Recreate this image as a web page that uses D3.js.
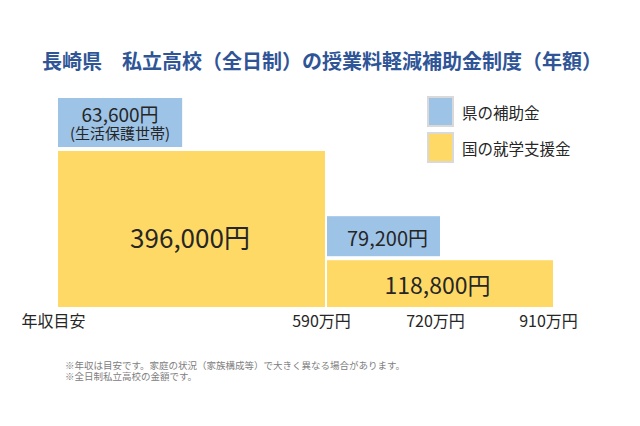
<!DOCTYPE html>
<html>
<head>
<meta charset="utf-8">
<script src="https://cdn.jsdelivr.net/npm/d3@7"></script>
<style>
    body { margin: 0; background: #fff; }
    text { font-family: "Noto Sans CJK JP", "Noto Sans", sans-serif; fill: #262626; }
</style>
</head>
<body>
<script>
const title = "長崎県　私立高校（全日制）の授業料軽減補助金制度（年額）";

const incomeTicks = [0, 590, 720, 910];
const incomeLabels = ["年収目安", "590万円", "720万円", "910万円"];

// 国の就学支援金
const nationalFrom = [0, 590];
const nationalTo = [590, 910];
const nationalAmount = [396000, 118800];

// 県の補助金 (sits on top of the national block starting at the same income)
const prefFrom = [0, 590];
const prefTo = [null, 720];          // null -> box as wide as its label
const prefAmount = [63600, 79200];
const prefNote = ["(生活保護世帯)", ""];

const legendLabels = ["県の補助金", "国の就学支援金"];
const footNotes = [
    "※年収は目安です。家庭の状況（家族構成等）で大きく異なる場合があります。",
    "※全日制私立高校の金額です。"
];

const W = 640, H = 426;
const blue = "#9dc3e6", yellow = "#ffd966";

const fmt = d => d3.format(",")(d) + "円";

const national = nationalAmount.map((v, i) => ({ from: nationalFrom[i], to: nationalTo[i], amount: v }));
const pref = prefAmount.map((v, i) => ({ from: prefFrom[i], to: prefTo[i], amount: v, note: prefNote[i] }));

var x = d3.scaleLinear()
    .domain(incomeTicks)
    .range([58, 326, 440, 553]);

var y = d3.scaleLinear()
    .domain([0, d3.max(nationalAmount)])
    .range([307, 151]);

var labelSize = d3.scaleLinear()
    .domain(d3.extent(nationalAmount))
    .range([23, 26]);

var svg = d3.select("body").append("svg")
    .attr("width", W)
    .attr("height", H);

svg.append("rect").attr("width", W).attr("height", H).attr("fill", "#fff");

svg.append("text")
    .attr("x", 42)
    .attr("y", 69)
    .style("font-size", "20px")
    .style("font-weight", "bold")
    .style("fill", "#2f5597")
    .text(title);

// national blocks
var nat = svg.selectAll(".nat")
    .data(national)
    .enter()
    .append("g")
    .attr("class", "nat");

nat.append("rect")
    .attr("x", d => x(d.from) + (d.from > 0 ? 1 : 0))
    .attr("y", d => y(d.amount))
    .attr("width", d => x(d.to) - x(d.from) - 1)
    .attr("height", d => y(0) - y(d.amount))
    .attr("fill", yellow);

nat.append("text")
    .attr("x", d => (x(d.from) + x(d.to)) / 2 - 2)
    .attr("y", d => (y(0) + y(d.amount)) / 2 + (d.amount > 200000 ? 7 : 0))
    .attr("text-anchor", "middle")
    .attr("dominant-baseline", "central")
    .style("font-size", d => labelSize(d.amount) + "px")
    .text(d => fmt(d.amount));

// prefecture boxes
var pg = svg.selectAll(".pref")
    .data(pref)
    .enter()
    .append("g")
    .attr("class", "pref");

pg.each(function(d) {
    var g = d3.select(this);
    var base = national.find(n => n.from === d.from);
    var bottom = y(base.amount) - 4;
    var x0 = x(d.from) + (d.from > 0 ? 1 : 0);
    var rect = g.append("rect").attr("fill", blue);

    var main = g.append("text")
        .attr("text-anchor", "middle")
        .attr("dominant-baseline", "central")
        .style("font-size", d.note ? "19px" : "20px")
        .text(fmt(d.amount));
    var note = null;
    if (d.note) {
        note = g.append("text")
            .attr("text-anchor", "middle")
            .attr("dominant-baseline", "central")
            .style("font-size", "15px")
            .text(d.note);
    }

    var wText = d3.max([main, note].filter(Boolean), t => t.node().getComputedTextLength());
    var boxH = Math.max(y(0) - y(d.amount), d.note ? 49 : 40);
    var boxW = d.to === null ? wText + 24 : x(d.to) - x(d.from) - 1;
    rect.attr("x", x0).attr("y", bottom - boxH).attr("width", boxW).attr("height", boxH);

    var cx = x0 + boxW / 2, cy = bottom - boxH / 2;
    if (note) {
        main.attr("x", cx).attr("y", cy - 9);
        note.attr("x", cx).attr("y", cy + 9.5);
    } else {
        main.attr("x", cx + 4).attr("y", cy + 1);
    }
});

// income axis
var xAxis = d3.axisBottom(x)
    .tickValues(incomeTicks)
    .tickFormat((d, i) => incomeLabels[i])
    .tickSize(0)
    .tickPadding(0);

var ax = svg.append("g")
    .attr("transform", "translate(-5,314)")
    .call(xAxis);
ax.select(".domain").remove();
ax.selectAll("text")
    .attr("dy", "0.8em")
    .style("font-size", "16px")
    .style("font-family", "\"Noto Sans CJK JP\", sans-serif")
    .style("fill", "#262626");

// legend
var leg = svg.selectAll(".legend")
    .data(legendLabels)
    .enter()
    .append("g")
    .attr("class", "legend")
    .attr("transform", (d, i) => "translate(428," + (97 + i * 36) + ")");

leg.append("rect")
    .attr("width", 25)
    .attr("height", 29)
    .attr("fill", (d, i) => i === 0 ? blue : yellow)
    .attr("stroke", "#d9d9d9")
    .attr("stroke-width", 2);

leg.append("text")
    .attr("x", 34)
    .attr("y", 14.5)
    .attr("dominant-baseline", "central")
    .style("font-size", "15.5px")
    .text(d => d);

svg.selectAll(".foot")
    .data(footNotes)
    .enter()
    .append("text")
    .attr("class", "foot")
    .attr("x", 65)
    .attr("y", (d, i) => 369 + i * 11)
    .style("font-size", "9.5px")
    .style("fill", "#808080")
    .text(d => d);
</script>
</body>
</html>
